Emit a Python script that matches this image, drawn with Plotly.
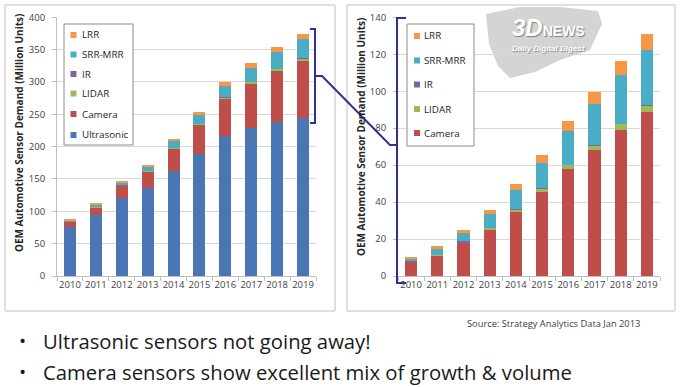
import plotly.graph_objects as go

# ---------------- data ----------------
years = ["2010", "2011", "2012", "2013", "2014", "2015", "2016", "2017", "2018", "2019"]
ultrasonic = [76, 95, 121, 136, 162, 188, 216, 229, 238, 244]
camera = [7.5, 11, 17.7, 25, 34.6, 45.6, 57.7, 68.2, 79.2, 88.8]
lidar = [0.3, 0.3, 0.5, 1.0, 1.2, 1.7, 2.3, 2.5, 3.1, 3.4]
ir = [0.1, 0.1, 0.8, 0.2, 0.2, 0.2, 0.2, 0.2, 0.2, 0.2]
srr_mrr = [1.5, 3.0, 4.5, 7.2, 10.5, 13.7, 18.3, 22.4, 26.3, 29.9]
lrr = [0.9, 1.6, 1.5, 2.3, 3.5, 4.5, 5.2, 6.3, 7.6, 8.5]

left_ticks = [0, 50, 100, 150, 200, 250, 300, 350, 400]
right_ticks = [0, 20, 40, 60, 80, 100, 120, 140]

y_title = "OEM Automotive Sensor Demand (Million Units)"
source_text = "Source: Strategy Analytics Data Jan 2013"
bullets = ["Ultrasonic sensors not going away!",
           "Camera sensors show excellent mix of growth & volume"]

colors = {
    "Ultrasonic": "#4A76B4",
    "Camera": "#BF4D4A",
    "LIDAR": "#9BBB59",
    "IR": "#8064A2",
    "SRR-MRR": "#4BACC6",
    "LRR": "#F79646",
}

W, H = 680, 387
FONT = "Open Sans"


def fx(px):
    return px / W


def fy(py):
    return 1 - py / H


def path(points, close=False):
    s = "M " + " L ".join(f"{fx(a):.5f},{fy(b):.5f}" for a, b in points)
    return s + (" Z" if close else "")


def note(text, x, y, size, color="#262626", xanchor="center", family=FONT, **kw):
    return dict(text=text, x=fx(x), y=fy(y), xref="paper", yref="paper",
                xanchor=xanchor, yanchor="middle", showarrow=False,
                font=dict(family=family, size=size, color=color), **kw)


fig = go.Figure()

left_series = [("Ultrasonic", ultrasonic), ("Camera", camera), ("LIDAR", lidar),
               ("IR", ir), ("SRR-MRR", srr_mrr), ("LRR", lrr)]
right_series = left_series[1:]

for name, vals in left_series:
    fig.add_trace(go.Bar(x=years, y=vals, name=name, marker_color=colors[name],
                         marker_line_width=0, showlegend=False,
                         xaxis="x", yaxis="y"))
for name, vals in right_series:
    fig.add_trace(go.Bar(x=years, y=vals, name=name, marker_color=colors[name],
                         marker_line_width=0, showlegend=False,
                         xaxis="x2", yaxis="y2"))

axis_common = dict(showline=True, linecolor="#BFBFBF", linewidth=1, automargin=False,
                   tickfont=dict(family=FONT, size=9.5, color="#404040"))

fig.update_layout(
    width=W, height=H, autosize=False,
    margin=dict(l=0, r=0, t=0, b=0, pad=0, autoexpand=False),
    paper_bgcolor="white", plot_bgcolor="white",
    barmode="stack", bargap=0.54,
    showlegend=False,
    xaxis=dict(domain=[fx(57), fx(316)], anchor="y", type="category", tickangle=0,
               ticks="outside", ticklen=4, tickcolor="#BFBFBF", tickson="boundaries",
               showgrid=False, **axis_common),
    yaxis=dict(domain=[fy(276), fy(17.3)], anchor="x", range=[0, 400],
               tickvals=left_ticks, ticks="outside", ticklen=4, tickcolor="#BFBFBF",
               ticklabelstandoff=5,
               showgrid=True, gridcolor="#D9D9D9", gridwidth=1, zeroline=False,
               **axis_common),
    xaxis2=dict(domain=[fx(398), fx(660)], anchor="y2", type="category", tickangle=0,
                ticks="outside", ticklen=4, tickcolor="#BFBFBF", tickson="boundaries",
                showgrid=False, **axis_common),
    yaxis2=dict(domain=[fy(276), fy(17.3)], anchor="x2", range=[0, 140],
                tickvals=right_ticks, ticks="outside", ticklen=4, tickcolor="#BFBFBF",
                ticklabelstandoff=5,
                showgrid=True, gridcolor="#D9D9D9", gridwidth=1, zeroline=False,
                **axis_common),
)

shapes = []
ann = []

# chart frames
for x0, x1 in [(5, 335), (347, 675)]:
    shapes.append(dict(type="rect", xref="paper", yref="paper",
                       x0=fx(x0), x1=fx(x1), y0=fy(311), y1=fy(5),
                       line=dict(color="#BFBFBF", width=1), fillcolor="rgba(0,0,0,0)",
                       layer="below"))

# watermark brush + text (right chart, behind bars)
shapes.append(dict(type="path", xref="paper", yref="paper", layer="below",
                   path=path([(486, 14), (520, 7), (560, 7), (598, 11), (602, 24),
                              (590, 50), (560, 60), (535, 72), (510, 78), (498, 66),
                              (489, 44)], close=True),
                   fillcolor="#C9C9C9", line=dict(width=0), opacity=0.8))
wm = note("<b><i><span style='font-size:24px'>3D</span></i>"
          "<span style='font-size:14px'>NEWS</span></b>",
          548, 27, 14, color="white", family="Liberation Sans")
wm["font"]["shadow"] = "1px 1px 1px #7F7F7F"
ann.append(wm)
wm2 = note("<b><i>Daily Digital Digest</i></b>", 548, 48.5, 8, color="white",
           family="Liberation Sans")
wm2["font"]["shadow"] = "1px 1px 1px #8C8C8C"
ann.append(wm2)

# brackets and connector
navy = "#2E3192"
shapes.append(dict(type="path", xref="paper", yref="paper",
                   path=path([(310, 29), (315, 29), (315, 123), (310, 123)]),
                   line=dict(color=navy, width=2)))
shapes.append(dict(type="path", xref="paper", yref="paper",
                   path=path([(315, 76), (322, 76), (390, 145), (397, 145)]),
                   line=dict(color=navy, width=2)))
shapes.append(dict(type="path", xref="paper", yref="paper",
                   path=path([(406, 18), (397, 18), (397, 283), (406, 283)]),
                   line=dict(color=navy, width=2)))

# legends (boxes with swatches, top entry = last series)
legend_specs = [
    dict(series=left_series, box=(64, 24, 133, 145), ys=[35, 54.5, 74, 93.5, 114, 135],
         sx=73.5, tx=80),
    dict(series=right_series, box=(407, 24, 474, 146), ys=[36, 60.5, 84.5, 109, 133],
         sx=417, tx=422),
]
for spec in legend_specs:
    bx0, by0, bx1, by1 = spec["box"]
    shapes.append(dict(type="rect", xref="paper", yref="paper",
                       x0=fx(bx0), x1=fx(bx1), y0=fy(by1), y1=fy(by0),
                       line=dict(color="#8C8C8C", width=1), fillcolor="white"))
    names = [n for n, _ in spec["series"]][::-1]
    for name, yc in zip(names, spec["ys"]):
        shapes.append(dict(type="rect", xref="paper", yref="paper",
                           x0=fx(spec["sx"] - 3), x1=fx(spec["sx"] + 3),
                           y0=fy(yc + 3), y1=fy(yc - 3),
                           line=dict(width=0), fillcolor=colors[name]))
        ann.append(note(name, spec["tx"], yc, 9.8, xanchor="left"))

# y-axis titles
for xc, yc in [(19, 133), (361, 137)]:
    ann.append(note(f"<b>{y_title}</b>", xc, yc, 10, textangle=-90))

# source
ann.append(note(source_text, 642, 323, 9.3, color="#404040", xanchor="right"))
# bullets
for txt, yc in zip(bullets, [341, 372]):
    ann.append(note("•", 22, yc, 19, color="#1A1A1A"))
    ann.append(note(txt, 41, yc, 20.3, color="#1A1A1A", xanchor="left"))

fig.update_layout(shapes=shapes, annotations=ann)

fig.write_html("out.html", config={"displayModeBar": False},
               post_script="document.body.style.margin='0';document.body.style.padding='0';")
